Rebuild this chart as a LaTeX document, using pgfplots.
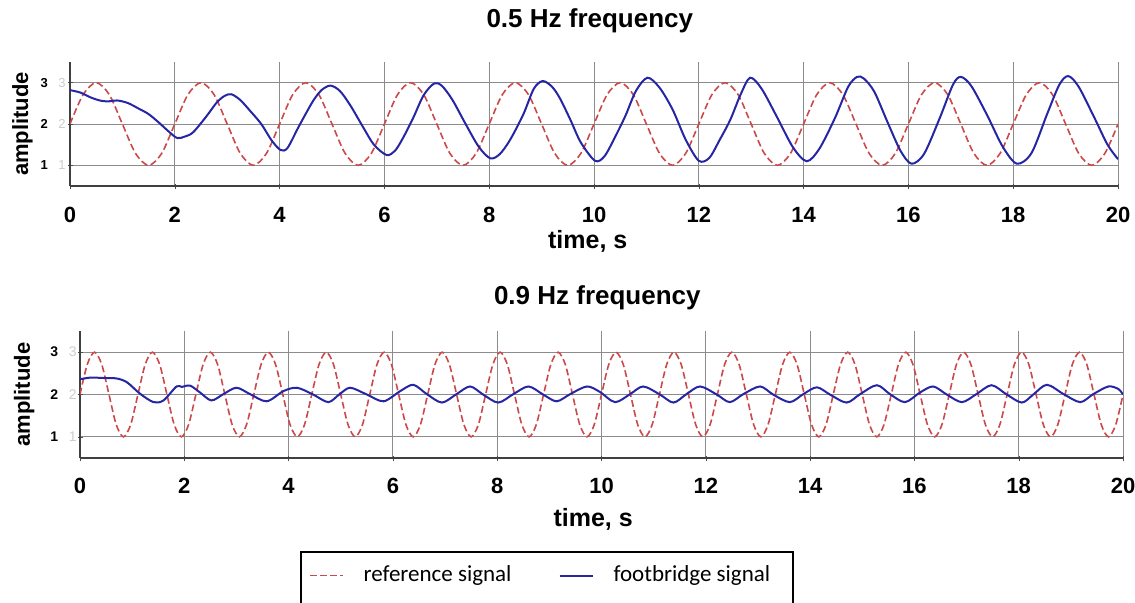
\documentclass[border=0pt]{standalone}
\usepackage{pgfplots}
\pgfplotsset{compat=1.18}
\usepackage{fontspec}
\setmainfont{Liberation Sans}
\newfontfamily\legendfont{Carlito}
\definecolor{refred}{RGB}{205,72,72}
\definecolor{fbblue}{RGB}{38,38,165}

\pgfplotsset{
  sig/.style={
    scale only axis,
    axis lines=left,
    axis line style={-, black!75, line width=0.8pt},
    xmin=0, xmax=20, ymin=0.5, ymax=3.5,
    xtick={0,2,...,20}, ytick={1,2,3},
    grid=major, grid style={black!45, line width=0.5pt},
    tick style={black!70}, major tick length=2.5pt,
    /pgf/number format/assume math mode=true,
    xticklabel style={font=\bfseries\fontsize{11}{11}\selectfont, anchor=base, inner sep=0pt},
    yticklabel style={anchor=east, inner sep=0pt},
    xlabel={time, s}, ylabel={amplitude},
    xlabel style={anchor=base, font=\bfseries\fontsize{12.5}{12.5}\selectfont},
    ylabel style={anchor=base, font=\bfseries\fontsize{11}{11}\selectfont},
    title style={anchor=base, font=\bfseries\fontsize{13}{13}\selectfont},
  },
  refsig/.style={refred, line width=0.8pt, dash pattern=on 3.4pt off 1.7pt, smooth},
  fbsig/.style={fbblue, line width=1pt, smooth},
}

\begin{document}
\begin{tikzpicture}
\useasboundingbox (0,0) rectangle (567.5pt,-301pt);

% 0.5 Hz
\begin{axis}[sig,
    at={(35pt,-31pt)}, anchor=north west,
    width=524pt, height=62pt,
    title={0.5 Hz frequency},
    title style={at={(axis description cs:0.496,1.18)}},
    xlabel style={at={(axis description cs:0.494,-0.5)}},
    ylabel style={at={(axis description cs:-0.040,0.5)}},
    xticklabel style={yshift=-17pt},
    yticklabel={\textbf{\fontsize{6.5}{6.5}\selectfont\pgfmathprintnumber{\tick}}\hspace{5.2pt}{\color{black!20}\fontsize{6.5}{6.5}\selectfont\pgfmathprintnumber{\tick}}},
    yticklabel style={xshift=-0.8pt},
  ]
  \addplot[refsig] coordinates {
    (0,2) (0.25,2.71) (0.5,3) (0.75,2.71) (1,2) (1.25,1.29) (1.5,1) (1.75,1.29)
    (2,2) (2.25,2.71) (2.5,3) (2.75,2.71) (3,2) (3.25,1.29) (3.5,1) (3.75,1.29)
    (4,2) (4.25,2.71) (4.5,3) (4.75,2.71) (5,2) (5.25,1.29) (5.5,1) (5.75,1.29)
    (6,2) (6.25,2.71) (6.5,3) (6.75,2.71) (7,2) (7.25,1.29) (7.5,1) (7.75,1.29)
    (8,2) (8.25,2.71) (8.5,3) (8.75,2.71) (9,2) (9.25,1.29) (9.5,1) (9.75,1.29)
    (10,2) (10.25,2.71) (10.5,3) (10.75,2.71) (11,2) (11.25,1.29) (11.5,1) (11.75,1.29)
    (12,2) (12.25,2.71) (12.5,3) (12.75,2.71) (13,2) (13.25,1.29) (13.5,1) (13.75,1.29)
    (14,2) (14.25,2.71) (14.5,3) (14.75,2.71) (15,2) (15.25,1.29) (15.5,1) (15.75,1.29)
    (16,2) (16.25,2.71) (16.5,3) (16.75,2.71) (17,2) (17.25,1.29) (17.5,1) (17.75,1.29)
    (18,2) (18.25,2.71) (18.5,3) (18.75,2.71) (19,2) (19.25,1.29) (19.5,1) (19.75,1.29)
    (20,2)
  };
  \addplot[fbsig] coordinates {
    (0,2.82) (0.2,2.76) (0.4,2.64) (0.6,2.56) (0.75,2.55) (0.9,2.57) (1.1,2.51)
    (1.3,2.38) (1.5,2.24) (1.7,2.03) (1.9,1.80) (2.05,1.66) (2.2,1.70) (2.35,1.80)
    (2.6,2.18) (2.8,2.52) (2.95,2.68) (3.08,2.72) (3.25,2.58) (3.45,2.30) (3.65,2.00)
    (3.85,1.60) (4.02,1.37) (4.15,1.42) (4.35,1.90) (4.5,2.25) (4.65,2.58) (4.8,2.82)
    (4.97,2.93) (5.15,2.80) (5.35,2.45) (5.6,1.91) (5.8,1.50) (6.04,1.25) (6.2,1.35)
    (6.35,1.65) (6.55,2.15) (6.75,2.70) (6.95,2.98) (7.1,2.92) (7.3,2.58) (7.55,2.00)
    (7.8,1.45) (8.02,1.17) (8.2,1.27) (8.4,1.62) (8.65,2.23) (8.85,2.85) (9.02,3.04)
    (9.2,2.90) (9.35,2.62) (9.55,2.10) (9.75,1.55) (10.02,1.11) (10.2,1.22) (10.4,1.68)
    (10.6,2.20) (10.8,2.80) (11.02,3.12) (11.25,2.88) (11.5,2.35) (11.75,1.62) (12.0,1.11)
    (12.2,1.18) (12.4,1.62) (12.6,2.10) (12.8,2.72) (12.98,3.12) (13.2,2.85) (13.5,2.15)
    (13.8,1.43) (14.06,1.10) (14.3,1.40) (14.6,2.15) (14.85,2.90) (15.02,3.14) (15.15,3.10)
    (15.35,2.78) (15.6,2.05) (15.85,1.35) (16.06,1.04) (16.3,1.28) (16.6,2.15) (16.85,2.95)
    (17.0,3.14) (17.2,2.92) (17.5,2.22) (17.8,1.45) (18.07,1.04) (18.35,1.30) (18.65,2.25)
    (18.88,2.95) (19.05,3.16) (19.25,2.90) (19.55,2.15) (19.8,1.50) (20,1.15)
  };
\end{axis}

% 0.9 Hz
\begin{axis}[sig,
    at={(40pt,-165.5pt)}, anchor=north west,
    width=521.5pt, height=63.5pt,
    title={0.9 Hz frequency},
    title style={at={(axis description cs:0.496,1.118)}},
    xlabel style={at={(axis description cs:0.492,-0.543)}},
    ylabel style={at={(axis description cs:-0.048,0.5)}},
    xticklabel style={yshift=-16.5pt},
    yticklabel={\textbf{\fontsize{7}{7}\selectfont\pgfmathprintnumber{\tick}}\hspace{5.4pt}{\color{black!20}\fontsize{7}{7}\selectfont\pgfmathprintnumber{\tick}}},
    yticklabel style={xshift=-0.2pt},
    legend columns=2,
    legend style={at={(axis description cs:0.2109,-0.7323)}, anchor=north west,
      draw=black, line width=1pt, font=\legendfont\fontsize{11.5}{11.5}\selectfont,
      inner xsep=4pt, inner ysep=5pt,
      /tikz/every odd column/.append style={column sep=8pt},
      /tikz/every even column/.append style={column sep=21.5pt}},
    legend image code/.code={\draw[#1] (0pt,0pt) -- (16.5pt,0pt);},
  ]
  \addplot[refsig] coordinates {
    (0,2) (0.139,2.71) (0.278,3) (0.417,2.71) (0.556,2) (0.694,1.29) (0.833,1) (0.972,1.29)
    (1.111,2) (1.25,2.71) (1.389,3) (1.528,2.71) (1.667,2) (1.806,1.29) (1.944,1) (2.083,1.29)
    (2.222,2) (2.361,2.71) (2.5,3) (2.639,2.71) (2.778,2) (2.917,1.29) (3.056,1) (3.194,1.29)
    (3.333,2) (3.472,2.71) (3.611,3) (3.75,2.71) (3.889,2) (4.028,1.29) (4.167,1) (4.306,1.29)
    (4.444,2) (4.583,2.71) (4.722,3) (4.861,2.71) (5,2) (5.139,1.29) (5.278,1) (5.417,1.29)
    (5.556,2) (5.694,2.71) (5.833,3) (5.972,2.71) (6.111,2) (6.25,1.29) (6.389,1) (6.528,1.29)
    (6.667,2) (6.806,2.71) (6.944,3) (7.083,2.71) (7.222,2) (7.361,1.29) (7.5,1) (7.639,1.29)
    (7.778,2) (7.917,2.71) (8.056,3) (8.194,2.71) (8.333,2) (8.472,1.29) (8.611,1) (8.75,1.29)
    (8.889,2) (9.028,2.71) (9.167,3) (9.306,2.71) (9.444,2) (9.583,1.29) (9.722,1) (9.861,1.29)
    (10,2) (10.139,2.71) (10.278,3) (10.417,2.71) (10.556,2) (10.694,1.29) (10.833,1) (10.972,1.29)
    (11.111,2) (11.25,2.71) (11.389,3) (11.528,2.71) (11.667,2) (11.806,1.29) (11.944,1) (12.083,1.29)
    (12.222,2) (12.361,2.71) (12.5,3) (12.639,2.71) (12.778,2) (12.917,1.29) (13.056,1) (13.194,1.29)
    (13.333,2) (13.472,2.71) (13.611,3) (13.75,2.71) (13.889,2) (14.028,1.29) (14.167,1) (14.306,1.29)
    (14.444,2) (14.583,2.71) (14.722,3) (14.861,2.71) (15,2) (15.139,1.29) (15.278,1) (15.417,1.29)
    (15.556,2) (15.694,2.71) (15.833,3) (15.972,2.71) (16.111,2) (16.25,1.29) (16.389,1) (16.528,1.29)
    (16.667,2) (16.806,2.71) (16.944,3) (17.083,2.71) (17.222,2) (17.361,1.29) (17.5,1) (17.639,1.29)
    (17.778,2) (17.917,2.71) (18.056,3) (18.194,2.71) (18.333,2) (18.472,1.29) (18.611,1) (18.75,1.29)
    (18.889,2) (19.028,2.71) (19.167,3) (19.306,2.71) (19.444,2) (19.583,1.29) (19.722,1) (19.861,1.29)
    (20,2)
  };
  \addlegendentry{\hbox{reference signal\vrule width 0pt height 0pt depth 20pt}}
  \addplot[fbsig] coordinates {
    (0,2.36) (0.2,2.40) (0.45,2.39) (0.7,2.38) (0.9,2.29) (1.15,2.02) (1.41,1.82)
    (1.6,1.86) (1.85,2.19) (1.95,2.18) (2.11,2.21) (2.3,2.05) (2.52,1.86) (2.75,2.01)
    (3.0,2.16) (3.26,2.01) (3.58,1.84) (3.9,2.08) (4.16,2.16) (4.47,2.0) (4.76,1.82)
    (4.97,2.0) (5.18,2.16) (5.5,2.0) (5.82,1.84) (6.14,2.08) (6.39,2.23) (6.65,2.01)
    (6.94,1.81) (7.22,2.01) (7.48,2.19) (7.73,2.0) (8.02,1.81) (8.31,2.01) (8.6,2.19)
    (8.88,2.0) (9.14,1.84) (9.4,2.01) (9.72,2.19) (9.97,2.06) (10.26,1.82) (10.55,2.01)
    (10.8,2.19) (11.12,2.0) (11.38,1.81) (11.63,2.01) (11.89,2.19) (12.21,2.0) (12.46,1.82)
    (12.72,2.01) (13.04,2.19) (13.29,2.0) (13.61,1.82) (13.87,2.01) (14.13,2.17) (14.38,2.0)
    (14.7,1.81) (14.96,2.01) (15.28,2.22) (15.53,2.01) (15.82,1.82) (16.11,2.05) (16.36,2.19)
    (16.62,2.0) (16.91,1.82) (17.19,2.01) (17.48,2.22) (17.77,2.0) (18.06,1.81) (18.28,2.0)
    (18.54,2.23) (18.86,2.01) (19.18,1.82) (19.43,2.01) (19.72,2.19) (19.91,2.13) (20,2.0)
  };
  \addlegendentry{\hbox{footbridge signal\kern 5.5pt}}
  \addlegendimage{empty legend}
  \addlegendentry{\strut}
  \addlegendimage{empty legend}
  \addlegendentry{\strut}
\end{axis}
\end{tikzpicture}
\end{document}
